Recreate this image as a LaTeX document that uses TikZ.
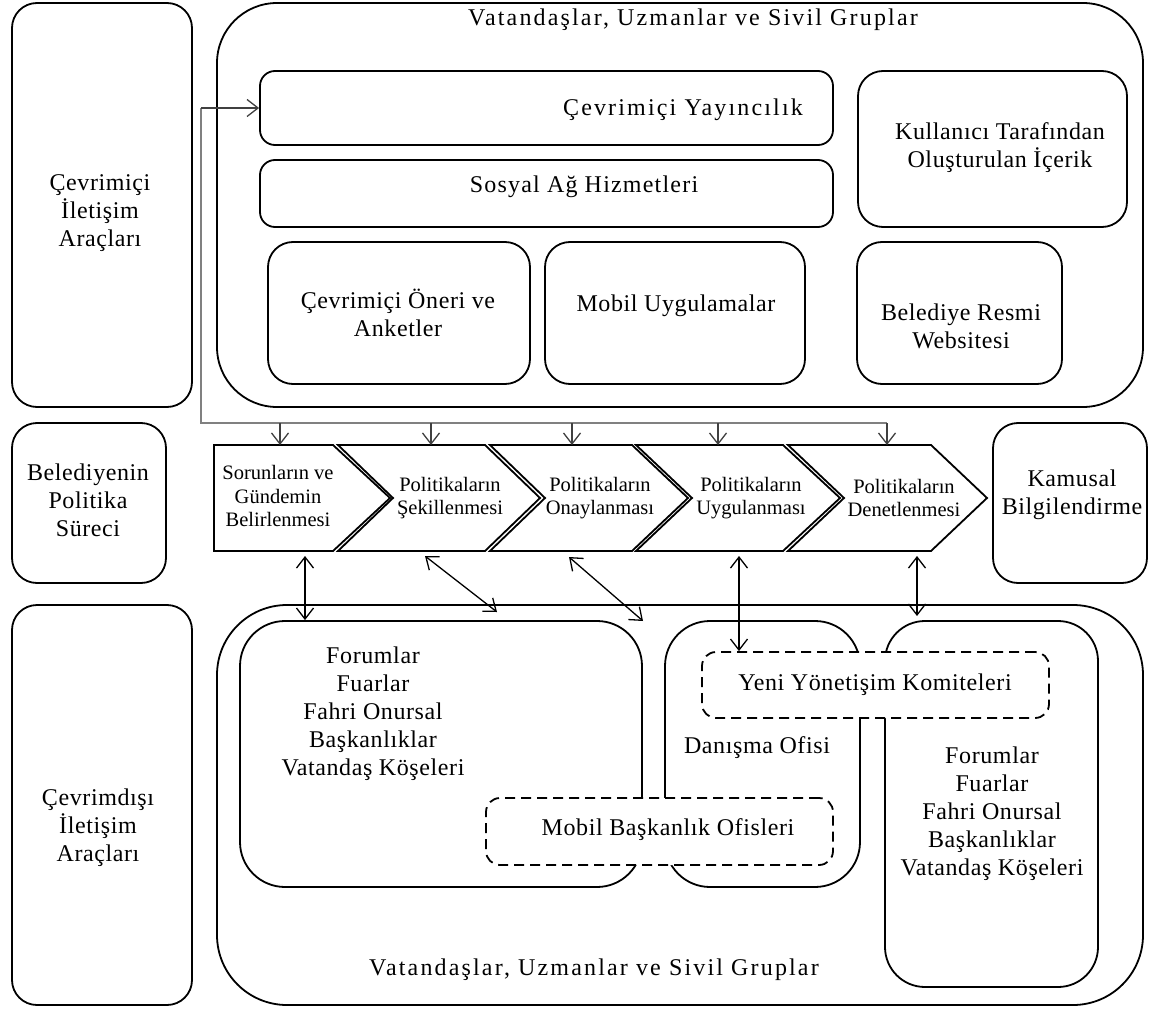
\documentclass[tikz,border=0pt]{standalone}
\usepackage{fontspec}
\setmainfont{Liberation Serif}[LetterSpace=2.5]
\newfontfamily\titlefont{Liberation Serif}[LetterSpace=9]
\newfontfamily\midfont{Liberation Serif}[LetterSpace=5]
\newfontfamily\stepfont{Liberation Serif}
\usetikzlibrary{arrows.meta}

\begin{document}
\begin{tikzpicture}[x=1pt,y=-1pt,
  box/.style={draw, line width=1.8pt, rounded corners=#1, inner sep=0pt},
  box/.default=25pt,
  dbox/.style={draw, fill=white, line width=1.8pt, dash pattern=on 10pt off 6pt,
    rounded corners=14pt, inner sep=0pt},
  txt/.style={align=center, font=\fontsize{24}{28}\selectfont, inner sep=0pt},
  title/.style={align=center, font=\titlefont\fontsize{24}{28}\selectfont, inner sep=0pt},
  midtxt/.style={align=center, font=\midfont\fontsize{24}{28}\selectfont, inner sep=0pt},
  steptxt/.style={align=center, font=\stepfont\fontsize{20.5}{23.5}\selectfont, inner sep=0pt},
  stepshape/.style={draw, line width=1.8pt, fill=white, line join=miter},
  feed/.style={draw=black!50, line width=1.3pt},
  feedarrow/.style={draw=black!75, line width=1.3pt, -{Straight Barb[length=11pt,width=17pt]}},
  dbl/.style={draw, line width=1.3pt,
    {Straight Barb[length=11pt,width=17pt]}-{Straight Barb[length=11pt,width=17pt]}},
]
\useasboundingbox (0,0) rectangle (1157,1011);

% ---- outer frames
\node[box=60pt, minimum width=926pt, minimum height=404pt] (topbig) at (680,205) {};
\node[box=70pt, minimum width=926pt, minimum height=400pt] (botbig) at (680,805) {};
\node[title] (toptitle) at (693,20) {Vatandaşlar, Uzmanlar ve Sivil Gruplar};
\node[title] (bottitle) at (594,970) {Vatandaşlar, Uzmanlar ve Sivil Gruplar};

% ---- left column
\node[box, minimum width=180pt, minimum height=404pt] (onl) at (102,205) {};
\node[txt] (onlt) at (100,213) {Çevrimiçi\\İletişim\\Araçları};
\node[box, minimum width=154pt, minimum height=160pt] (pol) at (89,503) {};
\node[txt] (polt) at (88,500) {Belediyenin\\Politika\\Süreci};
\node[box, minimum width=180pt, minimum height=400pt] (off) at (102,805) {};
\node[txt] (offt) at (98,828) {Çevrimdışı\\İletişim\\Araçları};

% ---- online tools
\node[box=15pt, minimum width=573pt, minimum height=74pt] (yay) at (546.5,108) {};
\node[title] (yayt) at (683,110) {Çevrimiçi Yayıncılık};
\node[box=15pt, minimum width=573pt, minimum height=67pt] (sos) at (546.5,193.5) {};
\node[midtxt] (sost) at (584,187) {Sosyal Ağ Hizmetleri};
\node[box, minimum width=269pt, minimum height=156pt] (kul) at (992.5,149) {};
\node[txt] (kult) at (1000,148) {Kullanıcı Tarafından\\Oluşturulan İçerik};
\node[box, minimum width=262pt, minimum height=142pt] (oner) at (399,313) {};
\node[txt] (onert) at (398,313) {Çevrimiçi Öneri ve\\Anketler};
\node[box, minimum width=260pt, minimum height=142pt] (mob) at (675,313) {};
\node[txt] (mobt) at (676,306) {Mobil Uygulamalar};
\node[box, minimum width=205pt, minimum height=142pt] (web) at (959.5,313) {};
\node[txt] (webt) at (961,326) {Belediye Resmi\\Websitesi};

% ---- public information
\node[box, minimum width=154pt, minimum height=160pt] (kam) at (1070,503) {};
\node[txt] (kamt) at (1072,495) {Kamusal\\Bilgilendirme};

% ---- offline tools
\node[box=45pt, minimum width=402pt, minimum height=266pt] (forl) at (441,754) {};
\node[txt] (forlt) at (373,714) {Forumlar\\Fuarlar\\Fahri Onursal\\Başkanlıklar\\Vatandaş Köşeleri};
\node[box=45pt, minimum width=195pt, minimum height=266pt] (dan) at (762.5,754) {};
\node[txt] (dant) at (757,748) {Danışma Ofisi};
\node[box=40pt, minimum width=213pt, minimum height=366pt] (forr) at (991.5,804) {};
\node[txt] (forrt) at (992,814) {Forumlar\\Fuarlar\\Fahri Onursal\\Başkanlıklar\\Vatandaş Köşeleri};
\node[dbox, minimum width=347pt, minimum height=66pt] (yeni) at (875.5,685) {};
\node[txt] (yenit) at (875,685) {Yeni Yönetişim Komiteleri};
\node[dbox, minimum width=347pt, minimum height=67pt] (mbo) at (659.5,831.5) {};
\node[txt] (mbot) at (668,830) {Mobil Başkanlık Ofisleri};

% ---- policy process chevrons
\draw[stepshape] (214,445) -- (333,445) -- (390,498) -- (333,551) -- (214,551) -- cycle;
\draw[stepshape] (338,445) -- (485,445) -- (540,498) -- (485,551) -- (338,551) -- (393,498) -- cycle;
\draw[stepshape] (490,445) -- (632,445) -- (688,498) -- (632,551) -- (490,551) -- (545,498) -- cycle;
\draw[stepshape] (636,445) -- (783,445) -- (840,498) -- (783,551) -- (636,551) -- (692,498) -- cycle;
\draw[stepshape] (788,445) -- (931,445) -- (987,498) -- (931,551) -- (788,551) -- (844,498) -- cycle;
\node[steptxt] (s1) at (278,496) {Sorunların ve\\Gündemin\\Belirlenmesi};
\node[steptxt] (s2) at (450,498) {Politikaların\\Şekillenmesi};
\node[steptxt] (s3) at (600,498) {Politikaların\\Onaylanması};
\node[steptxt] (s4) at (751,498) {Politikaların\\Uygulanması};
\node[steptxt] (s5) at (904,498) {Politikaların\\Denetlenmesi};

% ---- feed from online tools into every step
\coordinate (bus0) at (201,423);
\coordinate (bus1) at (280,423);  \coordinate (in1) at (280,445);
\coordinate (bus2) at (431,423);  \coordinate (in2) at (431,445);
\coordinate (bus3) at (572,423);  \coordinate (in3) at (572,445);
\coordinate (bus4) at (718,423);  \coordinate (in4) at (718,445);
\coordinate (bus5) at (887,423);  \coordinate (in5) at (887,445);
\draw[feed] (bus5) -- (bus0) -- (bus0 |- yay.west);
\draw[feedarrow] (bus0 |- yay.west) -- (yay.west);
\foreach \i in {1,...,5} \draw[feedarrow] (bus\i) -- (in\i);

% ---- exchanges between steps and offline tools
\coordinate (o1) at (305,556);
\coordinate (o2a) at (425,556);  \coordinate (o2b) at (497,612);
\coordinate (o3a) at (569,557);  \coordinate (o3b) at (643,621);
\coordinate (o4) at (739,556);
\coordinate (o5a) at (917,556);  \coordinate (o5b) at (917,616);
\draw[dbl] (o1) -- (o1 |- forl.north);
\draw[dbl] (o2a) -- (o2b);
\draw[dbl] (o3a) -- (o3b);
\draw[dbl] (o4) -- (o4 |- yeni.north);
\draw[dbl] (o5a) -- (o5b);
\end{tikzpicture}
\end{document}
